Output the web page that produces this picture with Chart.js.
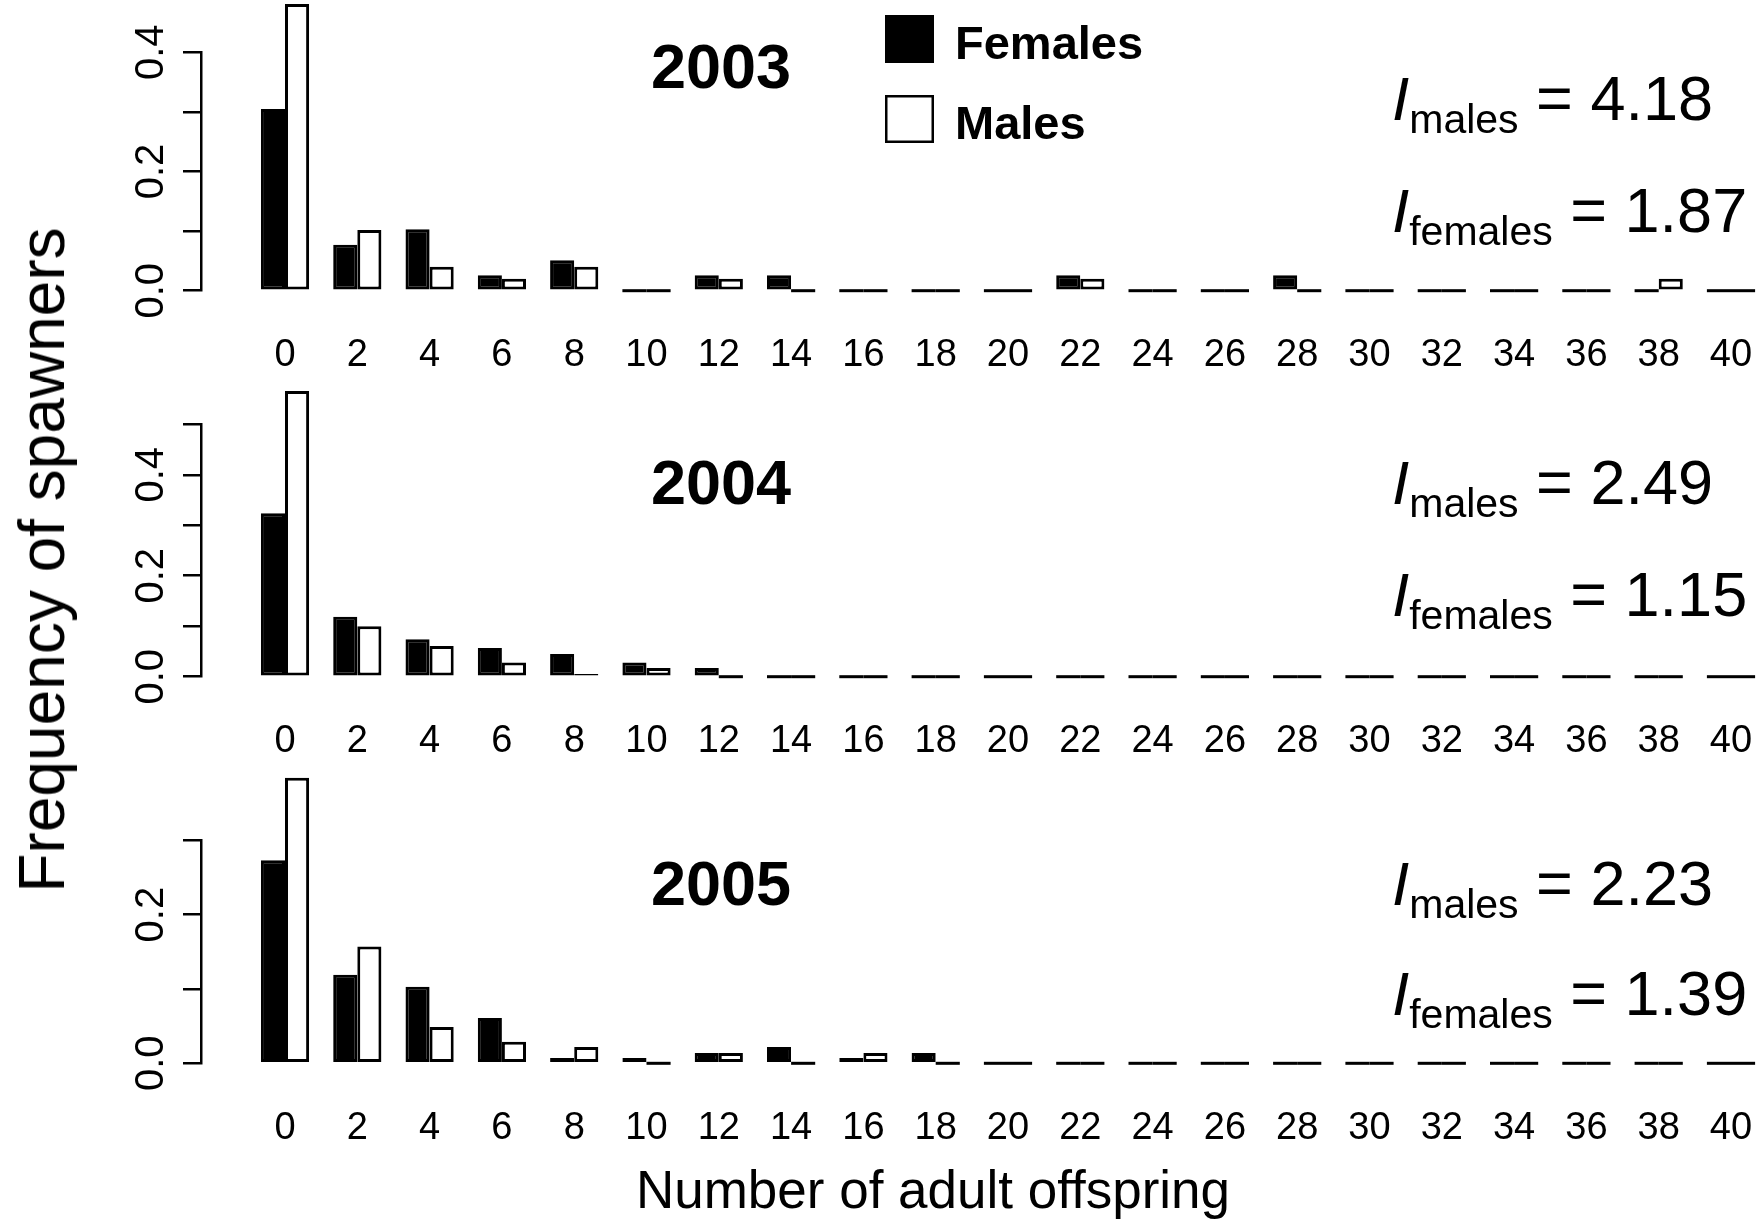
<!DOCTYPE html>
<html>
<head>
<meta charset="utf-8">
<script src="https://cdn.jsdelivr.net/npm/chart.js@4/dist/chart.umd.min.js"></script>
<style>
  html, body { margin: 0; padding: 0; background: #fff; }
  #wrap { position: relative; width: 1759px; height: 1219px; overflow: hidden; background: #fff; }
  #wrap canvas { position: absolute; left: 0; }
  .axis-title { position: absolute; font-family: "Liberation Sans", Arial, sans-serif; color: #000;
                white-space: nowrap; line-height: 1; }
</style>
</head>
<body>
<div id="wrap">
  <canvas id="panel0"></canvas>
  <canvas id="panel1"></canvas>
  <canvas id="panel2"></canvas>
  <div class="axis-title" id="ytitle">Frequency of spawners</div>
  <div class="axis-title" id="xtitle">Number of adult offspring</div>
</div>
<script>
// Number of adult offspring (bar groups) and tick labels along the bottom
const offspring = [0, 2, 4, 6, 8, 10, 12, 14, 16, 18, 20, 22, 24, 26, 28, 30, 32, 34, 36, 38, 40];

const years = ['2003', '2004', '2005'];
const seriesNames = ['Females', 'Males'];

// Frequency of spawners per offspring class
const females2003 = [0.305, 0.077, 0.103, 0.026, 0.051, 0, 0.026, 0.026, 0, 0, 0, 0.026, 0, 0, 0.026, 0, 0, 0, 0, 0, 0];
const males2003   = [0.481, 0.102, 0.040, 0.020, 0.040, 0, 0.020, 0, 0, 0, 0, 0.020, 0, 0, 0, 0, 0, 0, 0, 0.020, 0];

const females2004 = [0.324, 0.119, 0.074, 0.057, 0.045, 0.028, 0.017, 0, 0, 0, 0, 0, 0, 0, 0, 0, 0, 0, 0, 0, 0];
const males2004   = [0.566, 0.100, 0.061, 0.028, 0.0055, 0.017, 0, 0, 0, 0, 0, 0, 0, 0, 0, 0, 0, 0, 0, 0, 0];

const females2005 = [0.273, 0.119, 0.103, 0.061, 0.007, 0.007, 0.014, 0.022, 0.007, 0.014, 0, 0, 0, 0, 0, 0, 0, 0, 0, 0, 0];
const males2005   = [0.384, 0.157, 0.049, 0.029, 0.022, 0, 0.014, 0, 0.014, 0, 0, 0, 0, 0, 0, 0, 0, 0, 0, 0, 0];

// Opportunity for selection (I) printed in each panel
const iMales   = ['4.18', '2.49', '2.23'];
const iFemales = ['1.87', '1.15', '1.39'];

// Y axis extent and labelled ticks per panel
const yMax = [0.4, 0.5, 0.3];
const yLabelValues = [[0, 0.2, 0.4], [0, 0.2, 0.4], [0, 0.2]];

const femaleSeries = [females2003, females2004, females2005];
const maleSeries = [males2003, males2004, males2005];

const FONT = '"Liberation Sans", Arial, Helvetica, sans-serif';
const W = 1759;

// Page geometry of the three stacked panels
const PANELS = [
  { top: 0,   height: 371, areaTop: 52.3,  areaBottom: 290.7,  yearBase: 88,    malesBase: 120,   femalesBase: 231.7 },
  { top: 371, height: 386, areaTop: 424.3, areaBottom: 676.7,  yearBase: 504,   malesBase: 504,   femalesBase: 616.3 },
  { top: 757, height: 387, areaTop: 840.3, areaBottom: 1063.3, yearBase: 904.5, malesBase: 904.5, femalesBase: 1014.5 }
];

const decor = {
  id: 'decor',
  afterDatasetsDraw(chart) {
    // zero-frequency classes are drawn as flat bars on the baseline
    const ctx = chart.ctx;
    ctx.save();
    ctx.fillStyle = '#000';
    chart.data.datasets.forEach((ds, di) => {
      const meta = chart.getDatasetMeta(di);
      meta.data.forEach((el, i) => {
        if (ds.data[i].y === 0) {
          ctx.fillRect(el.x - el.width / 2, el.base - 1.5, el.width, 3);
        }
      });
    });
    ctx.restore();
  },
  afterDraw(chart, args, opts) {
    const ctx = chart.ctx;
    const L = opts.layout;
    const p = opts.panel;
    const yScale = chart.scales.y;
    ctx.save();
    ctx.fillStyle = '#000';

    // rotated y tick labels, reading upward along the axis
    ctx.font = '40px ' + FONT;
    ctx.textAlign = 'center';
    ctx.textBaseline = 'alphabetic';
    yLabelValues[p].forEach(v => {
      ctx.save();
      ctx.translate(163, yScale.getPixelForValue(v));
      ctx.rotate(-Math.PI / 2);
      ctx.fillText(v.toFixed(1), 0, 0);
      ctx.restore();
    });

    // year heading
    ctx.font = 'bold 63px ' + FONT;
    ctx.textAlign = 'center';
    ctx.fillText(years[p], 721, L.yearBase - L.top);

    // I_males and I_females
    const drawI = (sub, value, base) => {
      let x = 1392;
      const y = base - L.top;
      ctx.textAlign = 'left';
      ctx.font = 'italic 62px ' + FONT;
      ctx.fillText('I', x, y);
      x += ctx.measureText('I').width;
      ctx.font = '41px ' + FONT;
      ctx.fillText(sub, x, y + 13);
      x += ctx.measureText(sub).width;
      ctx.font = '63px ' + FONT;
      ctx.fillText(' = ' + value, x, y);
    };
    drawI('males', iMales[p], L.malesBase);
    drawI('females', iFemales[p], L.femalesBase);

    // legend in the top panel
    if (p === 0) {
      const ds = chart.data.datasets;
      ctx.fillStyle = ds[0].backgroundColor;
      ctx.fillRect(885, 15, 49, 48);
      ctx.fillStyle = ds[1].backgroundColor;
      ctx.fillRect(885, 95, 49, 48);
      ctx.strokeStyle = ds[1].borderColor;
      ctx.lineWidth = 2.5;
      ctx.strokeRect(886.25, 96.25, 46.5, 45.5);
      ctx.fillStyle = '#000';
      ctx.font = 'bold 47px ' + FONT;
      ctx.textAlign = 'left';
      ctx.fillText(ds[0].label, 955, 59);
      ctx.fillText(ds[1].label, 955, 138.5);
    }
    ctx.restore();
  }
};

PANELS.forEach((L, p) => {
  const canvas = document.getElementById('panel' + p);
  canvas.width = W;
  canvas.height = L.height;
  canvas.style.top = L.top + 'px';
  canvas.style.width = W + 'px';
  canvas.style.height = L.height + 'px';

  new Chart(canvas, {
    type: 'bar',
    data: {
      datasets: [
        {
          label: seriesNames[0],
          data: offspring.map((x, i) => ({ x: x, y: femaleSeries[p][i] })),
          backgroundColor: '#000000',
          borderColor: '#000000',
          borderWidth: 3,
          borderSkipped: false,
          clip: false
        },
        {
          label: seriesNames[1],
          data: offspring.map((x, i) => ({ x: x, y: maleSeries[p][i] })),
          backgroundColor: '#ffffff',
          borderColor: '#000000',
          borderWidth: 3,
          borderSkipped: false,
          clip: false
        }
      ]
    },
    options: {
      responsive: false,
      animation: false,
      devicePixelRatio: 1,
      datasets: { bar: { categoryPercentage: 2 / 3, barPercentage: 1 } },
      layout: { padding: { top: L.areaTop - L.top, left: 0, right: 0, bottom: 0 } },
      plugins: {
        legend: { display: false },
        tooltip: { enabled: false },
        decor: { layout: L, panel: p }
      },
      scales: {
        x: {
          type: 'linear',
          offset: false,
          min: -2.3237,
          max: 40.7746,
          bounds: 'data',
          afterBuildTicks: s => { s.ticks = offspring.map(v => ({ value: v })); },
          afterFit: s => {
            s.height = L.top + L.height - L.areaBottom;
            s.paddingLeft = 0;
            s.paddingRight = 0;
          },
          grid: { display: false, drawTicks: false },
          border: { display: false },
          ticks: {
            font: { family: FONT, size: 38 },
            color: '#000',
            padding: 42,
            autoSkip: false,
            maxRotation: 0,
            minRotation: 0,
            callback: v => String(v)
          }
        },
        y: {
          type: 'linear',
          min: 0,
          max: yMax[p],
          afterFit: s => { s.width = 201; s.paddingTop = 0; s.paddingBottom = 0; },
          ticks: { display: false, stepSize: 0.1 },
          grid: { drawOnChartArea: false, drawTicks: true, tickLength: 18, lineWidth: 2.5, color: '#000' },
          border: { display: true, width: 2.5, color: '#000' }
        }
      }
    },
    plugins: [decor]
  });
});

// shared axis titles
const yt = document.getElementById('ytitle');
yt.style.fontSize = '64px';
yt.style.left = '42px';
yt.style.top = '560px';
yt.style.transform = 'translate(-50%, -50%) rotate(-90deg)';

const xt = document.getElementById('xtitle');
xt.style.fontSize = '53px';
xt.style.left = '933px';
xt.style.top = '1163px';
xt.style.transform = 'translateX(-50%)';
</script>
</body>
</html>
